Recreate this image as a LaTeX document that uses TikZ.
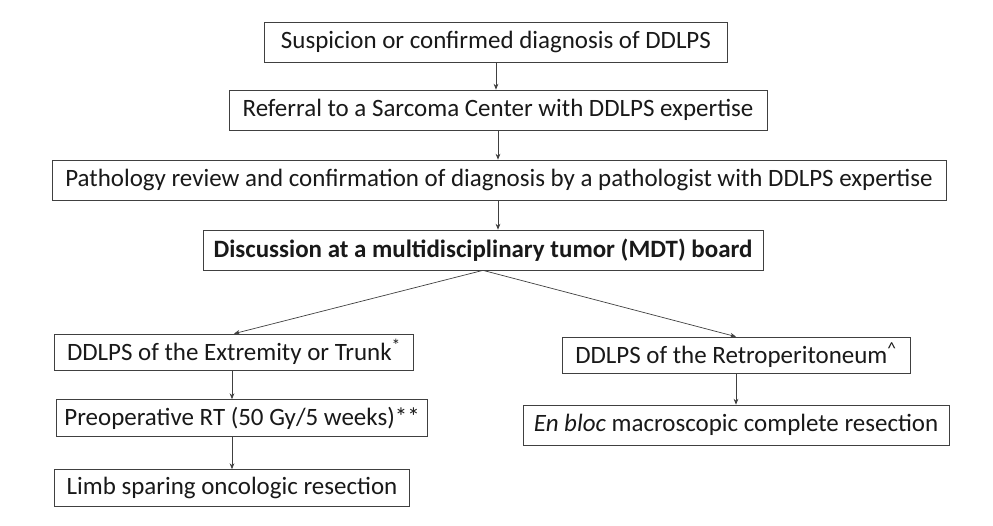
\documentclass[tikz,border=0pt]{standalone}
\usepackage{fontspec}
\setmainfont{Carlito}
\usetikzlibrary{arrows.meta}
\begin{document}
\begin{tikzpicture}[x=0.03cm,y=-0.03cm,
  box/.style={draw=black!75,line width=0.6pt,fill=white,inner sep=0pt,font=\fontsize{21.3}{24}\selectfont,text=black!90},
  arr/.style={-{Stealth[length=5pt,width=4pt]},line width=0.6pt,black!75}]
\useasboundingbox (0,0) rectangle (993,525);
\node[box,minimum width=463*0.03cm,minimum height=40*0.03cm] (a) at (496,42) {Suspicion or confirmed diagnosis of DDLPS};
\node[box,minimum width=538*0.03cm,minimum height=40*0.03cm] (b) at (498,110) {Referral to a Sarcoma Center with DDLPS expertise};
\node[box,minimum width=894*0.03cm,minimum height=40*0.03cm] (c) at (499,180) {Pathology review and confirmation of diagnosis by a pathologist with DDLPS expertise};
\node[box,minimum width=560*0.03cm,minimum height=40*0.03cm,font=\fontsize{21.3}{24}\selectfont\bfseries] (d) at (483,250) {Discussion at a multidisciplinary tumor (MDT) board};
\node[box,minimum width=359*0.03cm,minimum height=36*0.03cm] (e) at (234,352) {DDLPS of the Extremity or Trunk\textsuperscript{*}};
\node[box,minimum width=348*0.03cm,minimum height=36*0.03cm] (f) at (736,355) {DDLPS of the Retroperitoneum\textsuperscript{\^{}}};
\node[box,minimum width=371*0.03cm,minimum height=37*0.03cm] (g) at (242,418) {Preoperative RT (50 Gy/5 weeks)**};
\node[box,minimum width=426*0.03cm,minimum height=40*0.03cm] (h) at (736,425) {\textit{En bloc} macroscopic complete resection};
\node[box,minimum width=355*0.03cm,minimum height=37*0.03cm] (i) at (232,488) {Limb sparing oncologic resection};
\draw[arr] (a.south) -- (b.north-|a.south);
\draw[arr] (b.south) -- (c.north-|b.south);
\draw[arr] (c.south-|b.south) -- (d.north-|b.south);
\draw[arr] (d.south) -- (e.north);
\draw[arr] (d.south) -- (f.north);
\draw[arr] (e.south-|i.north) -- (g.north-|i.north);
\draw[arr] (g.south-|i.north) -- (i.north);
\draw[arr] (f.south) -- (h.north);
\end{tikzpicture}
\end{document}
